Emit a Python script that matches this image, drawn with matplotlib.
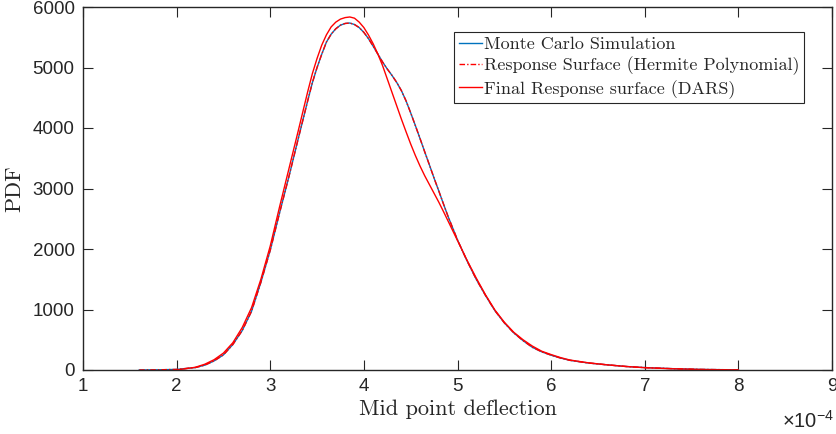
import matplotlib
matplotlib.use("Agg")
import matplotlib.pyplot as plt

# x in units of 1e-4
mc_x = [1.6, 1.8, 2.0, 2.2, 2.3, 2.4, 2.5, 2.6, 2.7, 2.8, 2.9, 3.0, 3.1, 3.2, 3.3, 3.4, 3.45,
        3.5, 3.55, 3.6, 3.65, 3.7, 3.75, 3.8, 3.85, 3.9, 3.95, 4.0, 4.05, 4.1, 4.15, 4.2, 4.25,
        4.3, 4.35, 4.4, 4.45, 4.5, 4.55, 4.6, 4.65, 4.7, 4.75, 4.8, 4.85, 4.9, 5.0,
        5.1, 5.2, 5.3, 5.4, 5.5, 5.6, 5.7, 5.8, 5.9, 6.0, 6.1, 6.2, 6.4, 6.6, 6.8, 7.0,
        7.3, 7.6, 8.0]
mc_pdf = [0, 3, 10, 40, 80, 150, 250, 420, 650, 970, 1450, 1980, 2600, 3200, 3830, 4450, 4750,
          5000, 5220, 5420, 5550, 5640, 5700, 5728, 5735, 5710, 5660, 5580, 5475, 5350, 5220, 5090, 4975,
          4870, 4755, 4620, 4450, 4250, 4040, 3825, 3605, 3390, 3170, 2960, 2745, 2535, 2150,
          1810, 1500, 1230, 980, 780, 615, 485, 375, 300, 245, 198, 160, 115, 85, 58, 40,
          22, 10, 2]

hp_x = mc_x
hp_pdf = mc_pdf

dars_x = [2.0, 2.2, 2.3, 2.4, 2.5, 2.6, 2.7, 2.8, 2.9, 3.0, 3.1, 3.2, 3.3, 3.4, 3.45, 3.5,
          3.55, 3.6, 3.65, 3.7, 3.75, 3.8, 3.85, 3.9, 3.95, 4.0, 4.05, 4.1, 4.15, 4.2, 4.25,
          4.3, 4.35, 4.4, 4.45, 4.5, 4.55, 4.6, 4.65, 4.7, 4.75, 4.8, 4.85, 4.9, 5.0, 5.1,
          5.2, 5.3, 5.4, 5.5, 5.6, 5.7, 5.8, 5.9, 6.0, 6.1, 6.2, 6.4, 6.6, 6.8, 7.0, 7.3,
          7.6, 8.0]
dars_pdf = [0, 45, 95, 170, 280, 450, 700, 1030, 1500, 2050, 2700, 3330, 3960, 4600, 4900, 5150,
            5370, 5540, 5670, 5750, 5800, 5825, 5835, 5815, 5750, 5660, 5535, 5390, 5220, 5030, 4810,
            4590, 4370, 4150, 3940, 3735, 3545, 3370, 3210, 3065, 2920, 2775, 2620, 2460, 2140, 1820,
            1520, 1240, 990, 790, 625, 500, 395, 310, 255, 205, 165, 118, 85, 58, 38, 20,
            8, 1]

x_ticks = [1, 2, 3, 4, 5, 6, 7, 8, 9]
y_ticks = [0, 1000, 2000, 3000, 4000, 5000, 6000]

labels = ["Monte Carlo Simulation", "Response Surface (Hermite Polynomial)",
          "Final Response surface (DARS)"]

fig = plt.figure(figsize=(8.36, 4.34), dpi=100)
ax = fig.add_axes([83/836, (434-370)/434, (832-83)/836, (370-7)/434])

ax.plot(mc_x, mc_pdf, color=(0, 0.447, 0.741), lw=1.0, label=labels[0])
ax.plot(hp_x, hp_pdf, color="red", lw=1.0, ls=(0, (4, 1.5, 1, 1.5)), label=labels[1])
ax.plot(dars_x, dars_pdf, color="red", lw=1.0, label=labels[2])

ax.set_xlim(1, 9)
ax.set_ylim(0, 6000)
ax.set_xticks(x_ticks)
ax.set_yticks(y_ticks)

spine_c = (0.15, 0.15, 0.15)
for s in ax.spines.values():
    s.set_color(spine_c)
    s.set_linewidth(1.0)
ax.tick_params(direction="in", length=7.5, width=0.8, color=spine_c, top=True, right=True,
               labelsize=13.5, labelcolor=spine_c, pad=6)
for lab in ax.get_xticklabels() + ax.get_yticklabels():
    lab.set_fontfamily("Liberation Sans")

ax.set_xlabel("Mid point deflection", fontfamily="cmr10", fontsize=16, color=spine_c, labelpad=3)
ax.set_ylabel("PDF", fontfamily="cmr10", fontsize=16, color=spine_c, labelpad=6)

fig.text(834/836, 1 - 421/434, r"$\mathregular{\times10^{-4}}$", fontfamily="Liberation Sans",
         fontsize=14.5, color=spine_c, ha="right", va="center")

leg = ax.legend(loc="upper right", bbox_to_anchor=((804-83)/749, (370-32)/363), borderaxespad=0,
                prop={"family": "cmr10", "size": 13}, fancybox=False, framealpha=1,
                edgecolor=spine_c, handlelength=1.3, handletextpad=0.1, labelspacing=0.25,
                borderpad=0.25)
leg.get_frame().set_linewidth(0.8)
for t in leg.get_texts():
    t.set_color(spine_c)

fig.savefig("out.png", dpi=100)
